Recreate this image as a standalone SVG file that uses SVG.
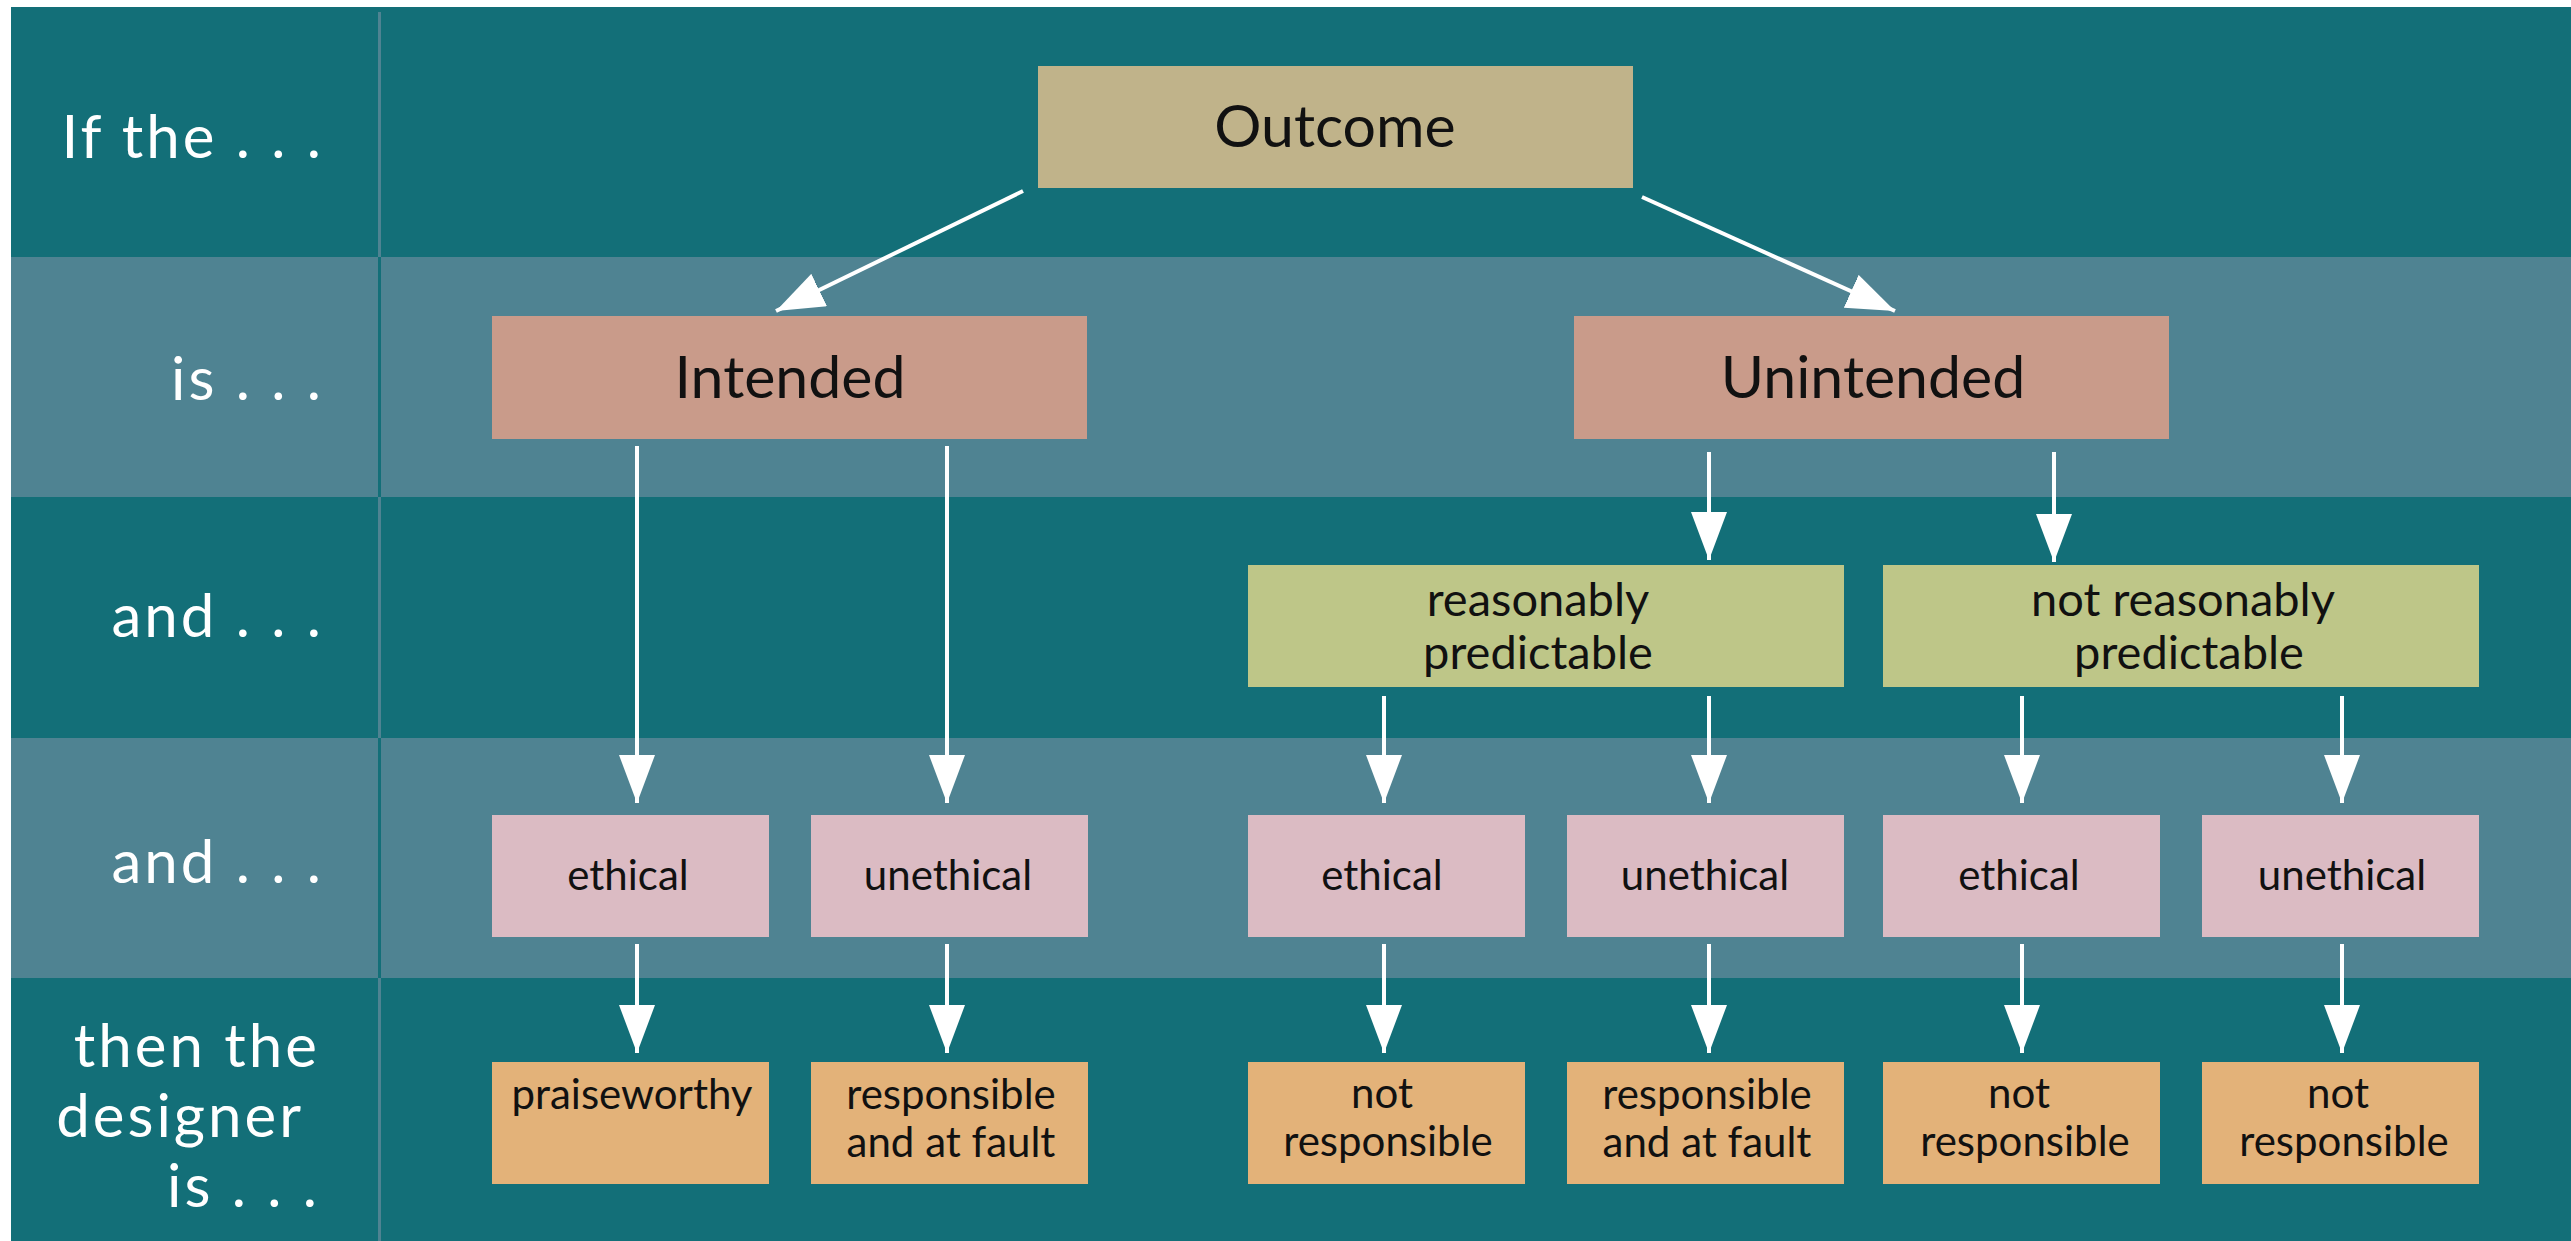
<svg xmlns="http://www.w3.org/2000/svg" width="2571" height="1241" viewBox="0 0 2571 1241">
<defs>
<style>
.dark{fill:#136f78}
.light{fill:#4f8392}
.lbl{font-family:Lato,"Liberation Sans",sans-serif;font-size:60px;fill:#fff;text-anchor:end;letter-spacing:3px}
.t{font-family:Lato,"Liberation Sans",sans-serif;fill:#111;text-anchor:middle}
.big{font-size:59px}
.mid{font-size:47px}
.sm{font-size:42px}
.outcome{fill:#c0b38a}
.intent{fill:#c99b8a}
.pred{fill:#bec688}
.eth{fill:#dbbbc3}
.res{fill:#e3b279}
.conn line{stroke:#fff;stroke-width:4;marker-end:url(#ah)}
</style>
<marker id="ah" markerUnits="userSpaceOnUse" markerWidth="48" markerHeight="36" refX="48" refY="18" orient="auto" viewBox="0 0 48 36"><path d="M0,0 L48,18 L0,36 z" fill="#fff"/></marker>
</defs>
<rect x="0" y="0" width="2571" height="1241" fill="#fff"/>
<g id="background">
<rect class="dark" x="11" y="7" width="2560" height="250"/>
<rect class="light" x="11" y="257" width="2560" height="240"/>
<rect class="dark" x="11" y="497" width="2560" height="241"/>
<rect class="light" x="11" y="738" width="2560" height="240"/>
<rect class="dark" x="11" y="978" width="2560" height="263"/>
<rect x="378" y="12" width="3" height="245" fill="#4f8392"/>
<rect x="378" y="257" width="3" height="240" fill="#136f78"/>
<rect x="378" y="497" width="3" height="241" fill="#4f8392"/>
<rect x="378" y="738" width="3" height="240" fill="#136f78"/>
<rect x="378" y="978" width="3" height="263" fill="#4f8392"/>
</g>
<g id="row-labels">
<text class="lbl" x="324" y="158">If the . . .</text>
<text class="lbl" x="324" y="400">is . . .</text>
<text class="lbl" x="324" y="637">and . . .</text>
<text class="lbl" x="324" y="883">and . . .</text>
<text class="lbl"><tspan x="320" y="1067">then the</tspan><tspan x="304" y="1137">designer</tspan><tspan x="320" y="1207">is . . .</tspan></text>
</g>
<g id="connectors" class="conn">
<line x1="1023" y1="191" x2="776" y2="311"/>
<line x1="1642" y1="197" x2="1895" y2="311"/>
<line x1="637" y1="446" x2="637" y2="803"/>
<line x1="947" y1="446" x2="947" y2="803"/>
<line x1="1709" y1="452" x2="1709" y2="560"/>
<line x1="2054" y1="452" x2="2054" y2="562"/>
<line x1="1384" y1="696" x2="1384" y2="803"/>
<line x1="1709" y1="696" x2="1709" y2="803"/>
<line x1="2022" y1="696" x2="2022" y2="803"/>
<line x1="2342" y1="696" x2="2342" y2="803"/>
<line x1="637" y1="944" x2="637" y2="1053"/>
<line x1="947" y1="944" x2="947" y2="1053"/>
<line x1="1384" y1="944" x2="1384" y2="1053"/>
<line x1="1709" y1="944" x2="1709" y2="1053"/>
<line x1="2022" y1="944" x2="2022" y2="1053"/>
<line x1="2342" y1="944" x2="2342" y2="1053"/>
</g>
<g id="outcome"><rect class="outcome" x="1038" y="66" width="595" height="122"/><text class="t big" x="1335" y="147">Outcome</text></g>
<g id="intended"><rect class="intent" x="492" y="316" width="595" height="123"/><text class="t big" x="790" y="398">Intended</text></g>
<g id="unintended"><rect class="intent" x="1574" y="316" width="595" height="123"/><text class="t big" x="1873" y="398">Unintended</text></g>
<g id="reasonably-predictable"><rect class="pred" x="1248" y="565" width="596" height="122"/><text class="t mid"><tspan x="1538" y="616">reasonably</tspan><tspan x="1538" y="669">predictable</tspan></text></g>
<g id="not-reasonably-predictable"><rect class="pred" x="1883" y="565" width="596" height="122"/><text class="t mid"><tspan x="2183" y="616">not reasonably</tspan><tspan x="2189" y="669">predictable</tspan></text></g>
<g id="ethical-1"><rect class="eth" x="492" y="815" width="277" height="122"/><text class="t sm" x="628" y="890">ethical</text></g>
<g id="unethical-1"><rect class="eth" x="811" y="815" width="277" height="122"/><text class="t sm" x="948" y="890">unethical</text></g>
<g id="ethical-2"><rect class="eth" x="1248" y="815" width="277" height="122"/><text class="t sm" x="1382" y="890">ethical</text></g>
<g id="unethical-2"><rect class="eth" x="1567" y="815" width="277" height="122"/><text class="t sm" x="1705" y="890">unethical</text></g>
<g id="ethical-3"><rect class="eth" x="1883" y="815" width="277" height="122"/><text class="t sm" x="2019" y="890">ethical</text></g>
<g id="unethical-3"><rect class="eth" x="2202" y="815" width="277" height="122"/><text class="t sm" x="2342" y="890">unethical</text></g>
<g id="praiseworthy"><rect class="res" x="492" y="1062" width="277" height="122"/><text class="t sm" x="632" y="1109">praiseworthy</text></g>
<g id="responsible-1"><rect class="res" x="811" y="1062" width="277" height="122"/><text class="t sm"><tspan x="951" y="1109">responsible</tspan><tspan x="951" y="1157">and at fault</tspan></text></g>
<g id="not-responsible-1"><rect class="res" x="1248" y="1062" width="277" height="122"/><text class="t sm"><tspan x="1382" y="1108">not</tspan><tspan x="1388" y="1156">responsible</tspan></text></g>
<g id="responsible-2"><rect class="res" x="1567" y="1062" width="277" height="122"/><text class="t sm"><tspan x="1707" y="1109">responsible</tspan><tspan x="1707" y="1157">and at fault</tspan></text></g>
<g id="not-responsible-2"><rect class="res" x="1883" y="1062" width="277" height="122"/><text class="t sm"><tspan x="2019" y="1108">not</tspan><tspan x="2025" y="1156">responsible</tspan></text></g>
<g id="not-responsible-3"><rect class="res" x="2202" y="1062" width="277" height="122"/><text class="t sm"><tspan x="2338" y="1108">not</tspan><tspan x="2344" y="1156">responsible</tspan></text></g>
</svg>
